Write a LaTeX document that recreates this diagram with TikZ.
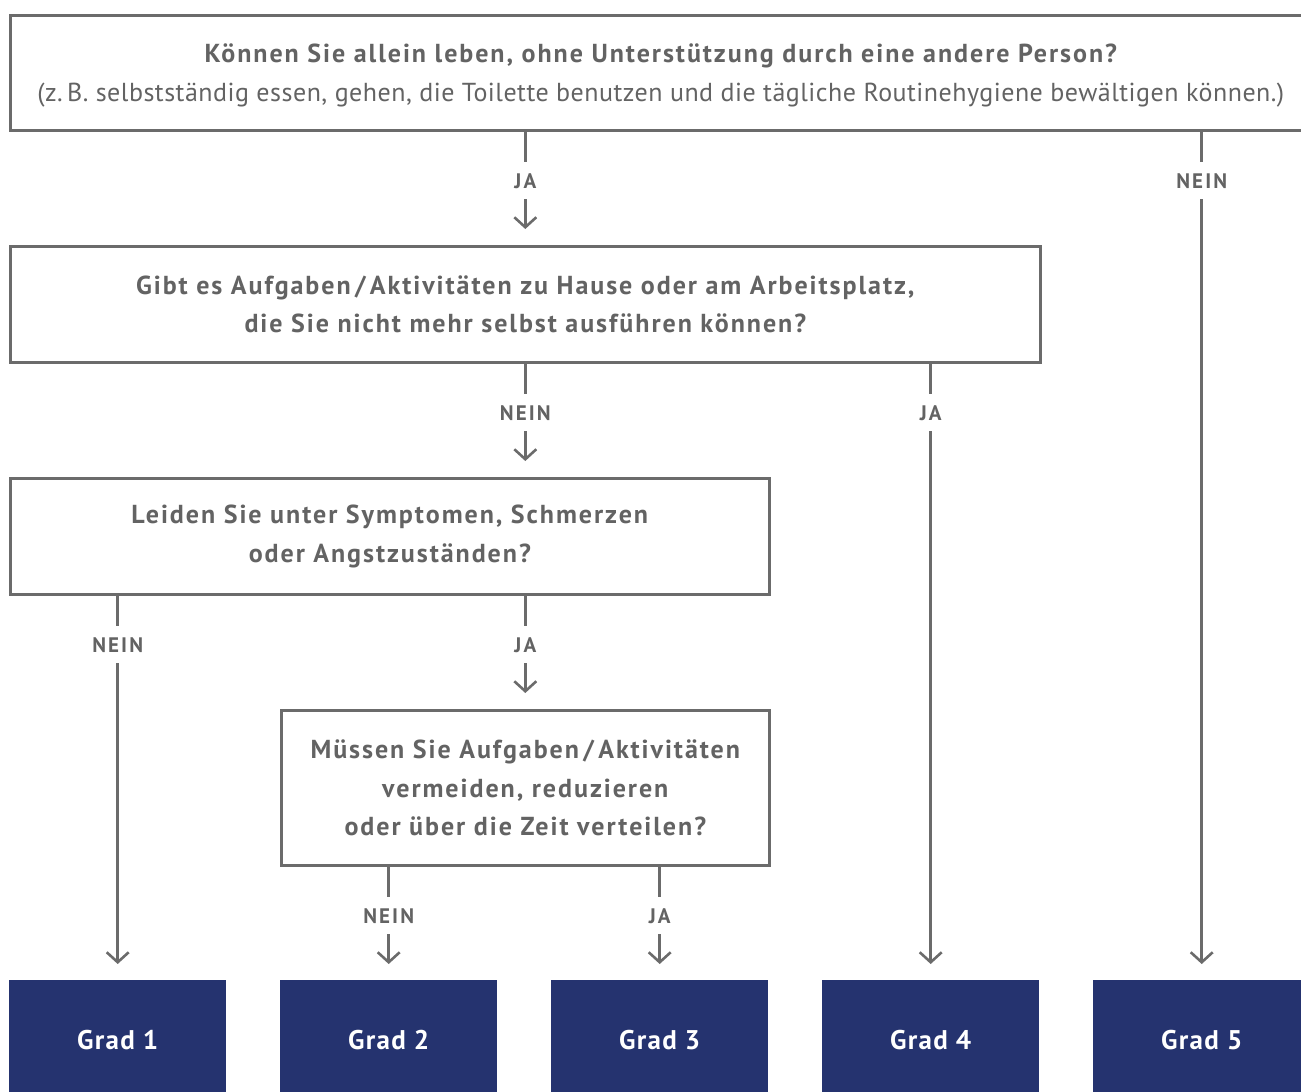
\documentclass[tikz,border=0pt]{standalone}
\usepackage{fontspec}
\setmainfont{PT Sans}
\newfontfamily\qfont[LetterSpace=7.5]{PT Sans}
\newfontfamily\lightfont[LetterSpace=1.9]{PT Sans}
\newfontfamily\labfont[LetterSpace=10]{PT Sans}
\newfontfamily\gradefont[LetterSpace=4.8]{PT Sans}
\usetikzlibrary{arrows.meta}
\definecolor{gtext}{HTML}{636363}
\definecolor{gline}{HTML}{6B6B6B}
\definecolor{navy}{HTML}{25336F}
\begin{document}
\begin{tikzpicture}[x=1pt,y=-1pt,
  qbox/.style={draw=gline, line width=2.6pt, fill=white, anchor=north west, inner sep=0pt, align=center, text=gtext, font=\qfont\fontsize{26}{38.5}\selectfont\bfseries},
  grade/.style={fill=navy, anchor=north west, minimum width=217pt, minimum height=120pt, inner sep=0pt, text=white, font=\gradefont\fontsize{27}{30}\selectfont\bfseries},
  conn/.style={draw=gline, line width=2.6pt, shorten >=16pt, -{Straight Barb[length=10pt,width=22pt,line width=2.6pt]}},
  lab/.style={fill=white, text=gtext, font=\labfont\fontsize{21}{21}\selectfont\bfseries, inner xsep=3pt, inner ysep=11pt, text height=15pt, text depth=0pt, at start, yshift=-49pt}]
\path[use as bounding box] (0,0) rectangle (1301,1092);
\node[qbox, minimum width=1301pt, minimum height=115pt] (q1) at (9,14)
  {\rule{0pt}{24pt}Können Sie allein leben, ohne Unterstützung durch eine andere Person?\\
   {\lightfont\mdseries (z.\,B. selbstständig essen, gehen, die Toilette benutzen und die tägliche Routinehygiene bewältigen können.)}};
\node[qbox, minimum width=1030pt, minimum height=116pt] (q2) at (9,245)
  {Gibt es Aufgaben\,/\,Aktivitäten zu Hause oder am Arbeitsplatz,\\ die Sie nicht mehr selbst ausführen können?};
\node[qbox, minimum width=759pt, minimum height=116pt] (q3) at (9,477)
  {Leiden Sie unter Symptomen, Schmerzen\\ oder Angstzuständen?};
\node[qbox, minimum width=488pt, minimum height=155pt] (q4) at (280,709)
  {Müssen Sie Aufgaben\,/\,Aktivitäten\\ vermeiden, reduzieren\\ oder über die Zeit verteilen?};
\node[grade] (g1) at (9,980) {Grad 1};
\node[grade] (g2) at (280,980) {Grad 2};
\node[grade] (g3) at (551,980) {Grad 3};
\node[grade] (g4) at (822,980) {Grad 4};
\node[grade] (g5) at (1093,980) {Grad 5};
\draw[conn] (q1.south -| q2.north) -- (q2.north) node[lab] {JA};
\draw[conn] (q1.south -| g5.north) -- (g5.north) node[lab] {NEIN};
\draw[conn] (q2.south) -- (q2.south |- q3.north) node[lab] {NEIN};
\draw[conn] (q2.south -| g4.north) -- (g4.north) node[lab] {JA};
\draw[conn] (q3.south -| g1.north) -- (g1.north) node[lab] {NEIN};
\draw[conn] (q3.south -| q4.north) -- (q4.north) node[lab] {JA};
\draw[conn] (q4.south -| g2.north) -- (g2.north) node[lab] {NEIN};
\draw[conn] (q4.south -| g3.north) -- (g3.north) node[lab] {JA};
\end{tikzpicture}
\end{document}
